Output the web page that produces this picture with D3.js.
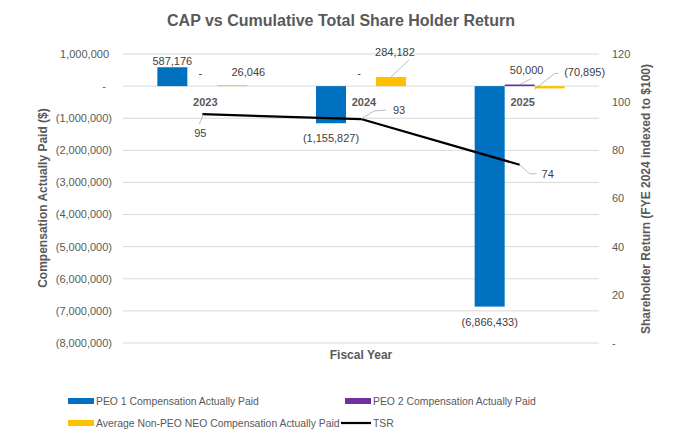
<!DOCTYPE html>
<html>
<head>
<meta charset="utf-8">
<script src="https://cdn.jsdelivr.net/npm/d3@7"></script>
<style>
  body { margin: 0; background: #fff; }
  text { font-family: "Liberation Sans", Arial, sans-serif; }
</style>
</head>
<body>
<div id="chart"></div>
<script>
// chart data
var years = ["2023", "2024", "2025"];
var peo1 = [587176, -1155827, -6866433];
var peo2 = [0, 0, 50000];
var nonPeo = [26046, 284182, -70895];
var tsr = [95, 93, 74];
var leftTicks = [1000000, 0, -1000000, -2000000, -3000000, -4000000, -5000000, -6000000, -7000000, -8000000];
var rightTicks = [0, 20, 40, 60, 80, 100, 120];

var seriesNames = ["PEO 1 Compensation Actually Paid", "PEO 2 Compensation Actually Paid",
  "Average Non-PEO NEO Compensation Actually Paid", "TSR"];
var colors = ["#0070C0", "#7030A0", "#FFC000", "#000000"];

var W = 682, H = 441;
var svg = d3.select("#chart").append("svg")
  .attr("width", W).attr("height", H);

// scales
var x = d3.scaleBand().domain(years).range([123, 599])
  .paddingInner(0.433).paddingOuter(0.2165);
var xs = d3.scaleBand().domain([0, 1, 2]).range([0, x.bandwidth()]);
var yL = d3.scaleLinear().domain([-8000000, 1000000]).range([343, 54]);
var yR = d3.scaleLinear().domain([0, 120]).range([343, 54]);

var fmt = d3.format(",");
function acct(v) {
  if (v === 0) return "-";
  return v < 0 ? "(" + fmt(-v) + ")" : fmt(v);
}

// gridlines
svg.append("g").selectAll("line").data(leftTicks).join("line")
  .attr("x1", 123).attr("x2", 599)
  .attr("y1", d => yL(d)).attr("y2", d => yL(d))
  .attr("stroke", "#d9d9d9").attr("stroke-width", 1);

// left axis labels
svg.append("g").selectAll("text").data(leftTicks).join("text")
  .attr("x", d => 112 - (d > 0 ? 3 : d === 0 ? 6 : 0))
  .attr("y", d => yL(d))
  .attr("dy", "0.35em")
  .attr("text-anchor", "end")
  .attr("font-size", 11).attr("fill", "#595959")
  .text(acct);

// right axis labels
svg.append("g").selectAll("text").data(rightTicks).join("text")
  .attr("x", 612)
  .attr("y", d => yR(d))
  .attr("dy", "0.35em")
  .attr("font-size", 11).attr("fill", "#595959")
  .text(d => d === 0 ? "-" : d);

// bars
var bars = [peo1, peo2, nonPeo];
bars.forEach(function(vals, s) {
  svg.append("g").selectAll("rect").data(vals).join("rect")
    .attr("x", (d, i) => x(years[i]) + xs(s))
    .attr("width", xs.bandwidth())
    .attr("y", d => yL(Math.max(d, 0)))
    .attr("height", d => Math.abs(yL(d) - yL(0)))
    .attr("fill", colors[s]);
});

// category labels sit just under the zero line
svg.append("g").selectAll("text").data(years).join("text")
  .attr("x", d => x(d) + x.bandwidth() / 2 + 3)
  .attr("y", yL(0) + 16)
  .attr("dy", "0.35em")
  .attr("text-anchor", "middle")
  .attr("font-size", 11).attr("font-weight", "bold").attr("fill", "#595959")
  .text(d => d);

// TSR line
var line = d3.line()
  .x((d, i) => x(years[i]) + x.bandwidth() / 2)
  .y(d => yR(d));
svg.append("path").datum(tsr)
  .attr("d", line)
  .attr("fill", "none")
  .attr("stroke", "#000").attr("stroke-width", 2.25)
  .attr("stroke-linejoin", "round");

// data labels: offsets from the end of each mark, leader = path points relative to the same anchor
var labelLayer = svg.append("g");
function dataLabel(ax, ay, txt, dx, dy, leader) {
  if (leader) {
    labelLayer.append("path")
      .attr("d", d3.line()(leader.map(p => [ax + p[0], ay + p[1]])))
      .attr("fill", "none").attr("stroke", "#a6a6a6").attr("stroke-width", 0.75);
  }
  labelLayer.append("text")
    .attr("x", ax + dx).attr("y", ay + dy)
    .attr("dy", "0.35em")
    .attr("text-anchor", "middle")
    .attr("font-size", 11).attr("fill", "#404040")
    .text(txt);
}

var barLabelOffsets = [
  [[0, -6, null], [0, 15, null], [0, 16, null]],
  [[-2, -13, null], [-2, -13, null], [7, -14, [[0, 0], [12, -6]]]],
  [[16, -13, null], [4, -25, [[0, 0], [18, -17]]], [35, -16, [[-15, 1], [5, -15], [9, -15]]]]
];
bars.forEach(function(vals, s) {
  vals.forEach(function(v, i) {
    var ax = x(years[i]) + xs(s) + xs.bandwidth() / 2;
    var o = barLabelOffsets[s][i];
    dataLabel(ax, yL(v), acct(v), o[0], o[1], o[2]);
  });
});

var tsrOffsets = [
  [-2, 19, [[1, 0], [-3, 10]]],
  [38, -9, [[0, 0], [13, -8], [25, -9]]],
  [28, 9, [[0, 0], [10, 9], [17, 9]]]
];
tsr.forEach(function(v, i) {
  var o = tsrOffsets[i];
  dataLabel(x(years[i]) + x.bandwidth() / 2, yR(v), v, o[0], o[1], o[2]);
});

// title
svg.append("text")
  .attr("x", 341).attr("y", 20).attr("dy", "0.35em")
  .attr("text-anchor", "middle")
  .attr("font-size", 16).attr("font-weight", "bold").attr("fill", "#595959")
  .text("CAP vs Cumulative Total Share Holder Return");

// axis titles
svg.append("text")
  .attr("transform", "translate(43,198) rotate(-90)")
  .attr("dy", "0.35em").attr("text-anchor", "middle")
  .attr("font-size", 12).attr("font-weight", "bold").attr("fill", "#595959")
  .text("Compensation Actually Paid ($)");
svg.append("text")
  .attr("transform", "translate(646,199) rotate(-90)")
  .attr("dy", "0.35em").attr("text-anchor", "middle")
  .attr("font-size", 12).attr("font-weight", "bold").attr("fill", "#595959")
  .text("Shareholder Return (FYE 2024 indexed to $100)");
svg.append("text")
  .attr("x", 361).attr("y", 355).attr("dy", "0.35em")
  .attr("text-anchor", "middle")
  .attr("font-size", 12).attr("font-weight", "bold").attr("fill", "#595959")
  .text("Fiscal Year");

// legend
var legendPos = [[68, 401], [345, 401], [68, 423], [345, 423]];
var legend = svg.append("g").selectAll("g").data(seriesNames).join("g")
  .attr("transform", (d, i) => "translate(" + legendPos[i][0] + "," + legendPos[i][1] + ")");
legend.each(function(d, i) {
  var g = d3.select(this);
  if (i === 3) {
    g.append("line").attr("x1", -4).attr("x2", 26).attr("y1", 0).attr("y2", 0)
      .attr("stroke", "#000").attr("stroke-width", 2.25);
  } else {
    g.append("rect").attr("x", 0).attr("y", -3).attr("width", 26).attr("height", 6)
      .attr("fill", colors[i]);
  }
  g.append("text").attr("x", 28).attr("y", 0).attr("dy", "0.35em")
    .attr("font-size", 10.4).attr("fill", "#595959")
    .text(d);
});
</script>
</body>
</html>
